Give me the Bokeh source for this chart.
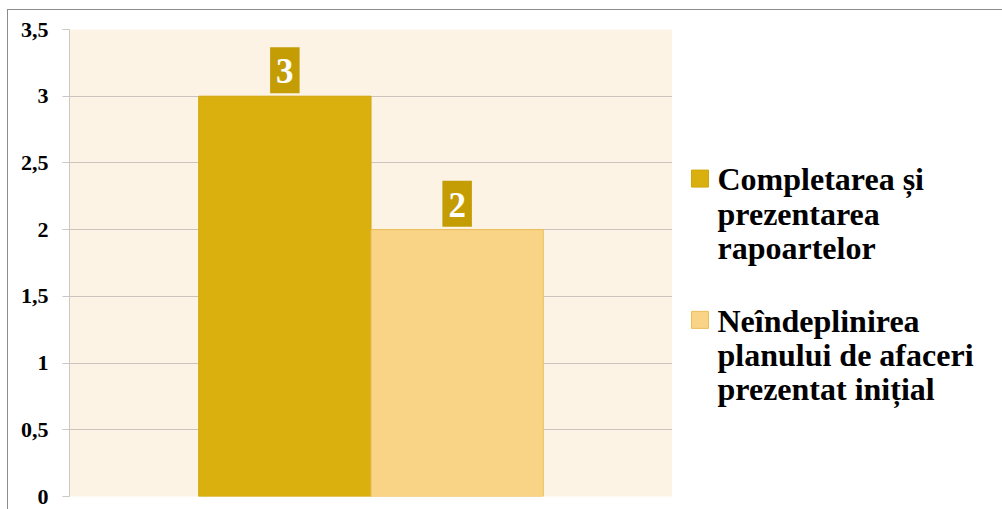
from bokeh.plotting import figure
from bokeh.layouts import row
from bokeh.models import (ColumnDataSource, FactorRange, Range1d, FixedTicker, Label)
from bokeh.core.properties import value
from bokeh.transform import dodge
from bokeh.embed import file_html
from bokeh.resources import INLINE

# ---- data ----
group = ["Cauze"]
series_names = ["Completarea și\nprezentarea\nrapoartelor",
                "Neîndeplinirea\nplanului de afaceri\nprezentat inițial"]
series_values = [3, 2]
value_labels = ["3", "2"]
bar_colors = ["#DAB00E", "#F9D487"]
bar_line_colors = ["#D2A60A", "#EDBE55"]
y_ticks = [0, 0.5, 1, 1.5, 2, 2.5, 3, 3.5]
y_tick_labels = ["0", "0,5", "1", "1,5", "2", "2,5", "3", "3,5"]

SERIF = "Liberation Serif"
gap_width = 1.5
n = len(series_values)
bar_w = 1.0 / (n + gap_width)

# ---- chart ----
p = figure(width=664, height=499, x_range=FactorRange(*group), y_range=Range1d(0, 3.5),
           title=None, output_backend="svg", toolbar_location=None, x_axis_location=None,
           min_border_left=61, min_border_top=19, min_border_right=0, min_border_bottom=13)
p.background_fill_color = "#FDF3E5"
p.border_fill_color = "white"
p.outline_line_color = None

p.ygrid.grid_line_color = "#CBC4BE"
p.ygrid.grid_line_width = 1
p.xgrid.grid_line_color = None
p.ygrid.ticker = FixedTicker(ticks=y_ticks)

ax = p.yaxis[0]
ax.ticker = FixedTicker(ticks=y_ticks)
ax.major_label_overrides = {t: l for t, l in zip(y_ticks, y_tick_labels)}
ax.axis_line_color = "#CFC8C2"
ax.major_tick_line_color = "#C8C8C8"
ax.major_tick_out = 7
ax.major_tick_in = 0
ax.minor_tick_line_color = None
ax.major_label_standoff = 14
ax.major_label_text_font = SERIF
ax.major_label_text_font_style = "bold"
ax.major_label_text_font_size = "22px"
ax.major_label_text_color = "black"

for i in range(n):
    off = (i - (n - 1) / 2) * bar_w
    src = ColumnDataSource(dict(x=group, top=[series_values[i]]))
    p.vbar(x=dodge("x", off, range=p.x_range), top="top", bottom=0, width=bar_w,
           source=src, fill_color=bar_colors[i], line_color=bar_line_colors[i], line_width=1)
    lab = Label(x=0.5 + off, y=series_values[i], text=value_labels[i],
                text_align="center", text_baseline="bottom", y_offset=3,
                text_font=SERIF, text_font_style="bold", text_font_size="35px",
                text_color="white", background_fill_color="#C49D04",
                padding=dict(left=6, right=6, top=12, bottom=10))
    p.add_layout(lab)

# ---- legend panel ----
LW, LH = 330, 499
leg = figure(width=LW, height=LH, x_range=Range1d(0, LW), y_range=Range1d(LH, 0),
             title=None, output_backend="svg", toolbar_location=None,
             x_axis_location=None, y_axis_location=None,
             min_border=0, min_border_left=0, min_border_right=0,
             min_border_top=0, min_border_bottom=0)
leg.outline_line_color = None
leg.grid.visible = False
leg.background_fill_color = "white"
leg.border_fill_color = "white"

leg_top, entry_gap = 141, 151
marker_x, marker_dy, text_x = 27.5, 18.3, 45
ys = [leg_top + i * entry_gap for i in range(n)]
leg.rect(x=[marker_x] * n, y=[y + marker_dy for y in ys], width=17, height=17,
         width_units="screen", height_units="screen",
         fill_color=bar_colors, line_color=bar_line_colors)
leg.text(x=[text_x] * n, y=ys, text=series_names,
         text_font=value(SERIF), text_font_style="bold", text_font_size="32px",
         text_color="black", text_baseline="top", text_align="left", text_line_height=0.95)

layout = row(p, leg, styles={"border-left": "1px solid #8c8c8c", "border-top": "1px solid #8c8c8c",
                             "margin-left": "7px", "margin-top": "9px"})

open("out.html", "w").write(file_html(layout, INLINE))
